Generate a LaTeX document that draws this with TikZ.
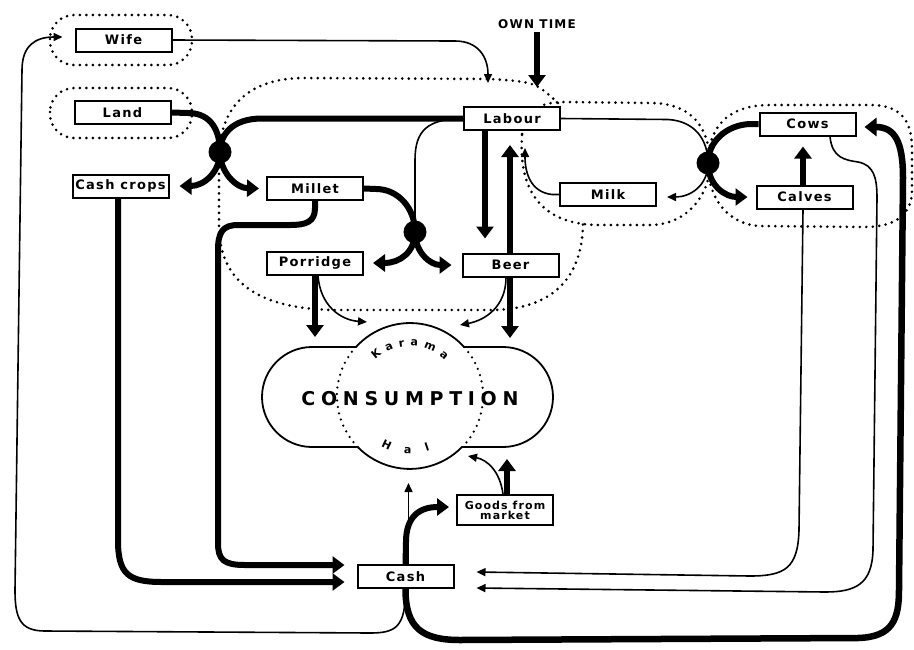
\documentclass[tikz,border=0pt]{standalone}
\usepackage{fontspec}
\setmainfont{DejaVu Sans}
\newfontfamily\boxfont[LetterSpace=10]{DejaVu Sans}
\newfontfamily\consfont[LetterSpace=30]{DejaVu Sans}
\usetikzlibrary{arrows.meta,calc,decorations.text}
\pgfdeclarelayer{back}
\pgfdeclarelayer{conn}
\pgfsetlayers{back,conn,main}
\begin{document}
\begin{tikzpicture}[x=1pt,y=-1pt,
  box/.style={draw, line width=2pt, fill=white, minimum width=96pt, minimum height=23pt, inner sep=0pt, font=\boxfont\bfseries\fontsize{13}{15}\selectfont},
  fline/.style={line width=1.6pt},
  hline/.style={line width=6pt},
  farr/.style={fline, -{Triangle[length=9pt,width=8pt]}},
  harr/.style={hline, -{Triangle[length=12pt,width=17pt]}},
  dots/.style={line width=2.9pt, dash pattern=on 0pt off 6.5pt, line cap=round},
  jn/.style={circle, fill, inner sep=0pt, minimum size=23pt}
]
\useasboundingbox (0,0) rectangle (914,649);

% nodes
\node[box] (wife) at (123.5,40) {Wife};
\node[box] (land) at (122.5,112.5) {Land};
\node[box] (cashcrops) at (120.5,186) {Cash crops};
\node[box] (millet) at (315,188.5) {Millet};
\node[box] (labour) at (512,118.5) {Labour};
\node[box] (porridge) at (315,263) {Porridge};
\node[box] (beer) at (510.5,265) {Beer};
\node[box] (milk) at (608,194.5) {Milk};
\node[box] (cows) at (807.5,124) {Cows};
\node[box] (calves) at (804.5,197) {Calves};
\node[box] (cash) at (405.5,576.5) {Cash};
\node[box, minimum height=30pt, align=center, font=\boxfont\bfseries\fontsize{11}{10}\selectfont] (goods) at (505,510) {Goods from\\market};
\node[jn] (j1) at (220,152) {};
\node[jn] (j2) at (415,232) {};
\node[jn] (j3) at (708,163) {};
\node[font=\boxfont\bfseries\fontsize{12}{14}\selectfont] (own) at (537,24) {OWN TIME};
\node[font=\consfont\bfseries\fontsize{19}{21}\selectfont] (cons) at (410,399) {CONSUMPTION};

\coordinate (C) at (410,396);
\coordinate (tPorC) at (315,337);
\coordinate (tPorK) at (367,322);
\coordinate (tBeerK) at (460,325);
\coordinate (tBeerC) at (510,338);
\coordinate (tCashC) at (408.5,483);
\coordinate (tGoodsC) at (507,459);
\coordinate (tGoodsK) at (468,456);

\path[decorate, decoration={text along path, text={|\bfseries\fontsize{11}{13}\selectfont|Karama}, text align={fit to path}}] ($(C)+(226:50)$) arc[start angle=226, end angle=314, radius=50];
\path[decorate, decoration={text along path, text={|\bfseries\fontsize{11}{13}\selectfont|Hal}, text align={fit to path}}] ($(C)+(120:58)$) arc[start angle=120, end angle=70, radius=58];

\begin{pgfonlayer}{back}
\fill[white] (0,0) rectangle (914,649);
\draw[dots, rounded corners=24pt] (50,15) rectangle (192,65);
\draw[dots, rounded corners=24pt] (50,88) rectangle (192,138);
\draw[dots] (558,103) .. controls (535,82) .. (490,79) -- (300,78) .. controls (240,80) and (219,115) .. (219,160) -- (219,225) .. controls (219,290) and (270,310) .. (340,310) -- (490,310) .. controls (560,310) and (583,270) .. (583,222);
\draw[dots] (522,135) .. controls (518,195) and (545,225) .. (600,225) -- (650,225) .. controls (690,225) and (712,190) .. (710,160) .. controls (708,125) and (690,103) .. (650,103) -- (565,102) .. controls (540,102) and (525,110) .. cycle;
\draw[dots] (708,165) .. controls (708,120) and (735,105) .. (770,105) -- (870,105) .. controls (905,105) and (912,125) .. (912,150) -- (912,190) .. controls (912,215) and (895,227) .. (865,227) -- (760,226) .. controls (730,225) and (708,200) .. cycle;
\draw[line width=1.8pt, fill=white] (356,347) arc[start angle=222.2, end angle=317.8, radius=73] -- (503,347) arc[start angle=-90, end angle=90, radius=50] -- (462,447) arc[start angle=44.4, end angle=135.6, radius=73] -- (312,447) arc[start angle=90, end angle=270, radius=50] -- cycle;
\draw[dots, line width=2.5pt] (464.1,347) arc[start angle=-42.2, end angle=44.4, radius=73];
\draw[dots, line width=2.5pt] (357.8,447) arc[start angle=135.6, end angle=222.2, radius=73];
\end{pgfonlayer}

\begin{pgfonlayer}{conn}
\draw[harr] (land.east) -- (188,113) .. controls (212,113) and (220,132) .. (j1.center) .. controls (220,172) and (236,188) .. ([xshift=-7pt]millet.west);
\draw[harr] (labour.west) -- (262,118.5) .. controls (232,118.5) and (220,135) .. (j1.center) .. controls (220,172) and (204,186) .. ([xshift=10pt]cashcrops.east);
\draw[harr] (millet.east) -- (376,189) .. controls (398,189) and (415,208) .. (j2.center) .. controls (415,252) and (400,263) .. ([xshift=9pt]porridge.east);
\draw[fline] (labour.west) .. controls (428,119) and (415,130) .. (415,160) -- (j2.center);
\draw[harr] (j2.center) .. controls (415,252) and (430,265) .. ([xshift=-10pt]beer.west);
\draw[harr] (millet.south) -- (315,208) .. controls (315,222) and (306,225) .. (290,225) -- (238,225) .. controls (223,225) and (218,232) .. (218,250) -- (218,543) .. controls (218,560) and (224,565) .. (245,565) -- ([xshift=-12pt,yshift=11.5pt]cash.west);
\draw[harr] ([xshift=-2.5pt]cashcrops.south) -- (118,540) .. controls (118,574) and (128,582) .. (162,582) -- ([xshift=-12pt,yshift=-5.5pt]cash.west);
\draw[harr] ([xshift=-27pt]labour.south) -- ([xshift=-25.5pt,yshift=14pt]beer.north);
\draw[hline, {Triangle[length=12pt,width=17pt]}-{Triangle[length=12pt,width=17pt]}] ([xshift=-2pt,yshift=-14pt]labour.south) -- (tBeerC);
\draw[farr] (milk.west) -- (552,194.5) .. controls (530,192) and (525,172) .. ([xshift=13pt,yshift=-17pt]labour.south);
\draw[farr] (labour.east) -- (668,119.5) .. controls (695,121) and (708,140) .. (j3.center) .. controls (708,186) and (690,197) .. ([xshift=10pt,yshift=-2.5pt]milk.east);
\draw[harr] (cows.west) -- (750,124) .. controls (726,125) and (708,142) .. (j3.center) .. controls (708,186) and (726,197) .. ([xshift=-8pt]calves.west);
\draw[harr] ([xshift=-1.5pt]calves.north) -- ([xshift=-4.5pt,yshift=-10pt]cows.south);
\draw[farr] ([xshift=-1.5pt]calves.south) -- (799,530) .. controls (798,568) and (785,576) .. (750,576) -- ([xshift=22pt,yshift=4.5pt]cash.east);
\draw[farr] ([xshift=22.5pt]cows.south) .. controls (832,158) and (845,160) .. (858,162) .. controls (874,165) and (877,178) .. (877,198) -- (873,550) .. controls (872,584) and (856,592) .. (825,592) -- ([xshift=22pt,yshift=-11.5pt]cash.east);
\draw[line width=6.5pt, -{Triangle[length=12pt,width=18pt]}] (cash.south) .. controls (405.5,628) and (422,640) .. (460,640) -- (858,638) .. controls (892,637) and (899,620) .. (899,590) -- (903,178) .. controls (903,142) and (895,127) .. ([xshift=8pt,yshift=-3pt]cows.east);
\draw[harr] (cash.north) -- (406,542) .. controls (406,516) and (420,507) .. ([xshift=-7pt,yshift=3pt]goods.west);
\draw[farr] ([xshift=3pt]cash.north) -- (tCashC);
\draw[harr] ([xshift=2pt]goods.north) -- (tGoodsC);
\draw[farr] ([xshift=-2pt]goods.north) .. controls (500,472) and (488,460) .. (tGoodsK);
\draw[harr] (porridge.south) -- (tPorC);
\draw[farr] ([xshift=3pt]porridge.south) .. controls (320,305) and (340,320) .. (tPorK);
\draw[farr] ([xshift=-4.5pt]beer.south) .. controls (506,306) and (486,320) .. (tBeerK);
\draw[farr] (wife.east) -- (455,41) .. controls (479,41) and (488,58) .. ([xshift=-24pt,yshift=23pt]labour.north);
\draw[line width=6.5pt, -{Triangle[length=12pt,width=17pt]}] (own.south) -- ([xshift=25pt,yshift=19pt]labour.north);
\draw[farr] (cash.south) .. controls (405.5,627) and (396,633) .. (370,633) -- (45,631) .. controls (20,631) and (15,618) .. (15,590) -- (22,70) .. controls (22,46) and (35,37) .. ([xshift=-12pt,yshift=3pt]wife.west);
\end{pgfonlayer}
\end{tikzpicture}
\end{document}
